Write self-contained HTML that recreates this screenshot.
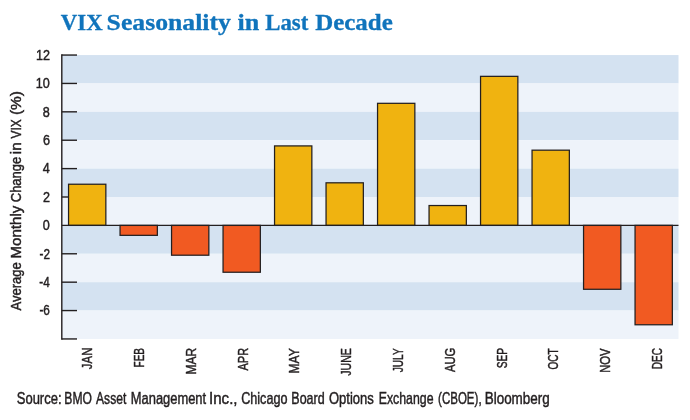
<!DOCTYPE html>
<html lang="en">
<head>
<meta charset="utf-8">
<title>VIX Seasonality in Last Decade</title>
<style>
html,body{margin:0;padding:0;background:#fff;}
body{width:690px;height:420px;overflow:hidden;}
svg{display:block;}
.t{font-family:"Liberation Serif",serif;font-weight:bold;fill:#1074bc;stroke:#1074bc;stroke-width:0.3px;}
.s{font-family:"Liberation Sans",sans-serif;fill:#231f20;stroke:#231f20;stroke-width:0.45px;}
</style>
</head>
<body>
<svg width="690" height="420" viewBox="0 0 690 420">
<rect width="690" height="420" fill="#ffffff"/>

<g>
<rect x="61.8" y="55.05" width="616.70" height="28.39" fill="#d4e2f1"/>
<rect x="61.8" y="83.44" width="616.70" height="28.39" fill="#eef3fa"/>
<rect x="61.8" y="111.83" width="616.70" height="28.39" fill="#d4e2f1"/>
<rect x="61.8" y="140.22" width="616.70" height="28.39" fill="#eef3fa"/>
<rect x="61.8" y="168.61" width="616.70" height="28.39" fill="#d4e2f1"/>
<rect x="61.8" y="197.00" width="616.70" height="28.39" fill="#eef3fa"/>
<rect x="61.8" y="225.39" width="616.70" height="28.39" fill="#d4e2f1"/>
<rect x="61.8" y="253.78" width="616.70" height="28.39" fill="#eef3fa"/>
<rect x="61.8" y="282.17" width="616.70" height="28.39" fill="#d4e2f1"/>
<rect x="61.8" y="310.56" width="616.70" height="28.39" fill="#eef3fa"/>
</g>
<g stroke="#231f20" stroke-width="1.4">
<line x1="61.8" y1="54.3" x2="61.8" y2="339.7"/>
<line x1="61.8" y1="55.05" x2="77" y2="55.05"/>
<line x1="61.8" y1="83.44" x2="77" y2="83.44"/>
<line x1="61.8" y1="111.83" x2="77" y2="111.83"/>
<line x1="61.8" y1="140.22" x2="77" y2="140.22"/>
<line x1="61.8" y1="168.61" x2="77" y2="168.61"/>
<line x1="61.8" y1="197.00" x2="77" y2="197.00"/>
<line x1="61.8" y1="253.78" x2="77" y2="253.78"/>
<line x1="61.8" y1="282.17" x2="77" y2="282.17"/>
<line x1="61.8" y1="310.56" x2="77" y2="310.56"/>
<line x1="61.8" y1="338.95" x2="77" y2="338.95"/>
</g>
<g stroke="#231f20" stroke-width="1.25">
<rect x="68.55" y="184.23" width="37.3" height="41.17" fill="#f0b310"/>
<rect x="120.05" y="225.40" width="37.3" height="9.94" fill="#f15a22"/>
<rect x="171.55" y="225.40" width="37.3" height="29.81" fill="#f15a22"/>
<rect x="223.05" y="225.40" width="37.3" height="46.84" fill="#f15a22"/>
<rect x="274.55" y="145.91" width="37.3" height="79.49" fill="#f0b310"/>
<rect x="326.05" y="182.81" width="37.3" height="42.59" fill="#f0b310"/>
<rect x="377.55" y="103.32" width="37.3" height="122.08" fill="#f0b310"/>
<rect x="429.05" y="205.53" width="37.3" height="19.87" fill="#f0b310"/>
<rect x="480.55" y="76.35" width="37.3" height="149.05" fill="#f0b310"/>
<rect x="532.05" y="150.17" width="37.3" height="75.23" fill="#f0b310"/>
<rect x="583.55" y="225.40" width="37.3" height="63.88" fill="#f15a22"/>
<rect x="635.05" y="225.40" width="37.3" height="99.37" fill="#f15a22"/>
</g>
<line x1="61.8" y1="225.4" x2="678.5" y2="225.4" stroke="#231f20" stroke-width="1.25"/>
<g>
<text class="s" font-size="14" transform="translate(35.99,59.85) scale(0.9,1)">12</text>
<text class="s" font-size="14" transform="translate(35.80,88.24) scale(0.9,1)">10</text>
<text class="s" font-size="14" transform="translate(42.86,116.63) scale(0.9,1)">8</text>
<text class="s" font-size="14" transform="translate(42.92,145.02) scale(0.9,1)">6</text>
<text class="s" font-size="14" transform="translate(42.73,173.41) scale(0.9,1)">4</text>
<text class="s" font-size="14" transform="translate(42.99,201.80) scale(0.9,1)">2</text>
<text class="s" font-size="14" transform="translate(42.86,230.19) scale(0.9,1)">0</text>
<text class="s" font-size="14" transform="translate(39.47,258.58) scale(0.84,1)">-2</text>
<text class="s" font-size="14" transform="translate(39.24,286.97) scale(0.84,1)">-4</text>
<text class="s" font-size="14" transform="translate(39.41,315.36) scale(0.84,1)">-6</text>
</g>
<g>
<text class="s" font-size="14" transform="translate(92.20,369.17) rotate(-90) scale(0.8158,1)">JAN</text>
<text class="s" font-size="14" transform="translate(144.00,367.40) rotate(-90) scale(0.7143,1)">FEB</text>
<text class="s" font-size="14" transform="translate(195.80,374.46) rotate(-90) scale(0.8544,1)">MAR</text>
<text class="s" font-size="14" transform="translate(247.60,370.45) rotate(-90) scale(0.7821,1)">APR</text>
<text class="s" font-size="14" transform="translate(299.40,373.57) rotate(-90) scale(0.8650,1)">MAY</text>
<text class="s" font-size="14" transform="translate(351.20,375.86) rotate(-90) scale(0.7604,1)">JUNE</text>
<text class="s" font-size="14" transform="translate(403.00,372.35) rotate(-90) scale(0.7265,1)">JULY</text>
<text class="s" font-size="14" transform="translate(454.80,371.96) rotate(-90) scale(0.8016,1)">AUG</text>
<text class="s" font-size="14" transform="translate(506.60,368.36) rotate(-90) scale(0.7274,1)">SEP</text>
<text class="s" font-size="14" transform="translate(558.40,369.45) rotate(-90) scale(0.7160,1)">OCT</text>
<text class="s" font-size="14" transform="translate(610.20,372.80) rotate(-90) scale(0.8036,1)">NOV</text>
<text class="s" font-size="14" transform="translate(662.00,369.20) rotate(-90) scale(0.7143,1)">DEC</text>
</g>
<g>
<text class="s" font-size="14" transform="translate(20.90,310.47) rotate(-90) scale(0.9322,1)">Average</text>
<text class="s" font-size="14" transform="translate(20.90,258.51) rotate(-90) scale(1.0772,1)">Monthly</text>
<text class="s" font-size="14" transform="translate(20.90,202.25) rotate(-90) scale(0.9279,1)">Change</text>
<text class="s" font-size="14" transform="translate(20.90,154.19) rotate(-90) scale(1.0879,1)">in</text>
<text class="s" font-size="14" transform="translate(20.90,138.46) rotate(-90) scale(0.8562,1)">VIX</text>
<text class="s" font-size="14" transform="translate(20.90,115.02) rotate(-90) scale(1.1000,1)">(%)</text>
</g>
<g>
<text class="t" font-size="22.8" transform="translate(60.87,30.30) scale(0.9984,1)">VIX</text>
<text class="t" font-size="22.8" transform="translate(106.59,30.30) scale(1.1282,1)">Seasonality</text>
<text class="t" font-size="22.8" transform="translate(237.48,30.30) scale(1.1458,1)">in</text>
<text class="t" font-size="22.8" transform="translate(265.16,30.30) scale(1.0015,1)">Last</text>
<text class="t" font-size="22.8" transform="translate(315.20,30.30) scale(1.0947,1)">Decade</text>
</g>
<g>
<text class="s" font-size="15.8" transform="translate(16.71,403.80) scale(0.8241,1)">Source:</text>
<text class="s" font-size="15.8" transform="translate(64.33,403.80) scale(0.7683,1)">BMO</text>
<text class="s" font-size="15.8" transform="translate(96.04,403.80) scale(0.7651,1)">Asset</text>
<text class="s" font-size="15.8" transform="translate(130.77,403.80) scale(0.8178,1)">Management</text>
<text class="s" font-size="15.8" transform="translate(209.04,403.80) scale(0.9549,1)">Inc.,</text>
<text class="s" font-size="15.8" transform="translate(241.17,403.80) scale(0.8002,1)">Chicago</text>
<text class="s" font-size="15.8" transform="translate(291.30,403.80) scale(0.7921,1)">Board</text>
<text class="s" font-size="15.8" transform="translate(328.91,403.80) scale(0.8257,1)">Options</text>
<text class="s" font-size="15.8" transform="translate(378.71,403.80) scale(0.7800,1)">Exchange</text>
<text class="s" font-size="15.8" transform="translate(438.11,403.80) scale(0.7288,1)">(CBOE),</text>
<text class="s" font-size="15.8" transform="translate(484.72,403.80) scale(0.8515,1)">Bloomberg</text>
</g>
</svg>
</body>
</html>
